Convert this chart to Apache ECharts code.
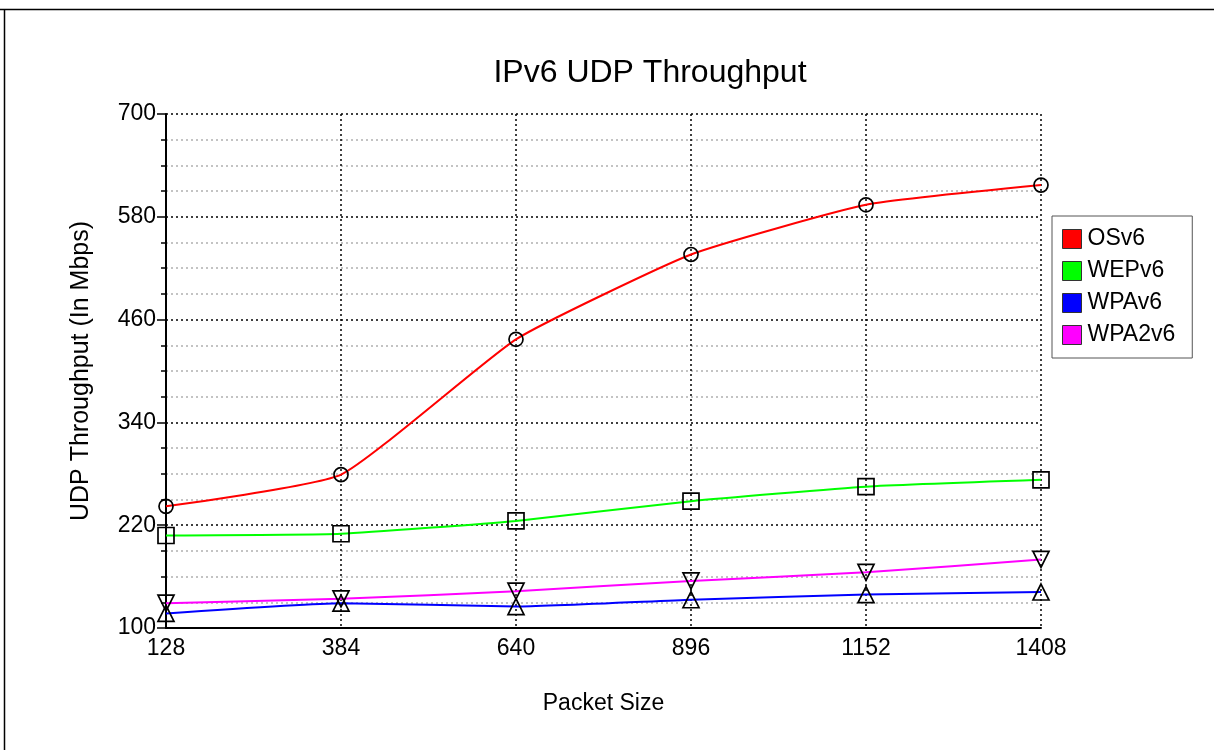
<!DOCTYPE html>
<html>
<head>
<meta charset="utf-8">
<script src="https://cdn.jsdelivr.net/npm/echarts@6/dist/echarts.min.js"></script>
<style>
html,body{margin:0;padding:0;background:#fff;}
#chart{width:1214px;height:750px;}
</style>
</head>
<body>
<div id="chart"></div>
<script>
var packetSizes = ['128', '384', '640', '896', '1152', '1408'];
var osv6   = [242, 279, 437, 536, 594, 617];
var wepv6  = [208, 210, 225, 248, 265, 273];
var wpav6  = [117, 129, 125, 133, 139, 142];
var wpa2v6 = [129, 134, 143, 155, 165, 180];
var yMin = 100, yMax = 700, yStep = 120;

var FONT = '"Liberation Sans", Arial, sans-serif';

function shift(arr) { return arr.map(function (v) { return v - yMin; }); }

function mk(name, data, color, symbol, size, rotate) {
  return {
    name: name, type: 'line', data: shift(data), smooth: 0.15,
    symbol: symbol, symbolSize: size, symbolRotate: rotate || 0,
    lineStyle: { color: color, width: 2 },
    itemStyle: { color: 'rgba(0,0,0,0)', borderColor: '#000', borderWidth: 1.7 },
    emphasis: { disabled: true }, z: 3
  };
}

var chart = echarts.init(document.getElementById('chart'), null, { renderer: 'canvas' });
chart.setOption({
  animation: false,
  backgroundColor: '#fff',
  textStyle: { fontFamily: FONT },
  grid: { left: 166, right: 173, top: 114, bottom: 122, containLabel: false },
  graphic: [
    { type: 'line', shape: { x1: 0, y1: 9.5, x2: 1214, y2: 9.5 }, style: { stroke: '#000', lineWidth: 1.5 } },
    { type: 'line', shape: { x1: 4.5, y1: 9, x2: 4.5, y2: 750 }, style: { stroke: '#000', lineWidth: 1.5 } },
    { type: 'text', style: { text: 'IPv6 UDP Throughput', font: '32px ' + FONT, fill: '#000', x: 650, y: 73, textAlign: 'center', textVerticalAlign: 'middle' } }
  ],
  legend: {
    orient: 'vertical', left: 1052, top: 216,
    padding: [11, 17, 11, 10], itemGap: 8, itemWidth: 19, itemHeight: 19,
    backgroundColor: '#fff', borderColor: '#555', borderWidth: 1, borderRadius: 0,
    icon: 'rect',
    textStyle: { fontSize: 23, lineHeight: 24, color: '#000', fontFamily: FONT, padding: [0, 0, 0, 1] },
    itemStyle: { borderColor: '#333', borderWidth: 1 },
    data: [
      { name: 'OSv6', itemStyle: { color: '#ff0000', borderColor: '#333', borderWidth: 1 } },
      { name: 'WEPv6', itemStyle: { color: '#00ff00', borderColor: '#333', borderWidth: 1 } },
      { name: 'WPAv6', itemStyle: { color: '#0000ff', borderColor: '#333', borderWidth: 1 } },
      { name: 'WPA2v6', itemStyle: { color: '#ff00ff', borderColor: '#333', borderWidth: 1 } }
    ],
    selectedMode: false
  },
  xAxis: {
    type: 'category', data: packetSizes, boundaryGap: false,
    name: 'Packet Size', nameLocation: 'middle', nameGap: 64,
    nameTextStyle: { fontSize: 23, color: '#000', fontFamily: FONT },
    axisLine: { lineStyle: { color: '#000', width: 2 } },
    axisTick: { show: false },
    axisLabel: { fontSize: 23, color: '#000', margin: 9, fontFamily: FONT },
    splitLine: { show: true, lineStyle: { color: '#000', width: 1.5, type: [2, 3] } }
  },
  yAxis: {
    type: 'value', min: 0, max: yMax - yMin, interval: yStep,
    name: 'UDP Throughput (In Mbps)', nameLocation: 'middle', nameGap: 72,
    nameTextStyle: { fontSize: 25, color: '#000', fontFamily: FONT },
    axisLine: { show: true, lineStyle: { color: '#000', width: 2 } },
    axisTick: { show: true, length: 9, lineStyle: { color: '#000', width: 1.5 } },
    minorTick: { show: true, splitNumber: 4, length: 5, lineStyle: { color: '#000', width: 1.5 } },
    axisLabel: { fontSize: 23, color: '#000', margin: 10, fontFamily: FONT,
      formatter: function (v) { return String(v + yMin); } },
    splitLine: { show: true, lineStyle: { color: '#000', width: 1.5, type: [2, 3] } },
    minorSplitLine: { show: true, lineStyle: { color: '#b0b0b0', width: 1.5, type: [2, 3] } }
  },
  series: [
    mk('OSv6', osv6, '#ff0000', 'circle', 14),
    mk('WEPv6', wepv6, '#00ff00', 'rect', 16),
    mk('WPAv6', wpav6, '#0000ff', 'triangle', 16),
    mk('WPA2v6', wpa2v6, '#ff00ff', 'triangle', 16, 180)
  ]
});
</script>
</body>
</html>
